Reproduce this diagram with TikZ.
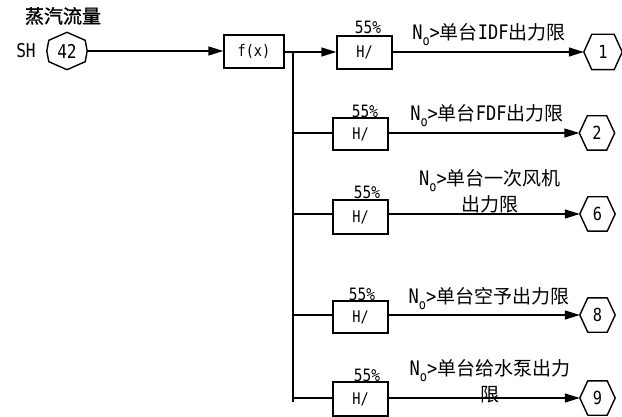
\documentclass[tikz,border=0pt]{standalone}
\usepackage{fontspec}
\setmainfont[FakeStretch=0.85]{DejaVu Sans Mono}
\newfontfamily\cjk{Noto Sans CJK SC}
\newfontfamily\cjkb[FakeBold=1.2]{Noto Sans CJK SC}
\usetikzlibrary{arrows.meta,calc}
\newcommand{\fsz}[1]{\fontsize{#1}{#1}\selectfont}
\newcommand{\zh}[1]{{\cjk\fontsize{19}{26}\selectfont #1}}
\newcommand{\No}{N\raisebox{-0.3em}{\fsz{14}o}>}
\tikzset{
  ln/.style={line width=1.4pt},
  arr/.style={ln, -{Triangle[length=15pt,width=9pt]}},
  hbox/.style={draw, line width=1.4pt, minimum width=55pt, minimum height=33pt, inner sep=0pt, font=\fsz{16}},
  hexo/.style={minimum width=35pt, minimum height=34pt, inner sep=0pt, font=\fsz{18}},
  pct/.style={inner sep=0pt, font=\fsz{17}},
  lbl/.style={inner sep=0pt, align=center, font=\fontsize{20}{26}\selectfont},
}
\begin{document}
\begin{tikzpicture}[x=1pt,y=-1pt]
\useasboundingbox (0,0) rectangle (622,417);
% title and source
\node[inner sep=0pt] (title) at (63,16) {\cjkb\fsz{19}蒸汽流量};
\node[inner sep=0pt, font=\fsz{19}] (sh) at (26,51) {SH};
\node[minimum width=40pt, minimum height=37pt, inner sep=0pt, font=\fsz{19}] (s42) at (67,51) {42};
\draw[ln] (s42.north) -- ($(s42.north east)+(-2,8)$) -- ($(s42.east)$) -- ($(s42.south east)+(-2,-8)$) -- (s42.south)
  -- ($(s42.south west)+(2,-8)$) -- (s42.west) -- ($(s42.north west)+(2,8)$) -- cycle;
\node[draw, line width=1.4pt, minimum width=60pt, minimum height=33pt, inner sep=0pt, font=\fsz{16}] (fx) at (254,51.5) {f(x)};
\draw[arr] (s42.east) -- (s42.east -| fx.west);

% boxes
\node[hbox] (b1) at (364.5,52.5) {H/};
\node[hbox, minimum height=32pt] (b2) at (360.5,134) {H/};
\node[hbox, minimum height=34pt] (b3) at (360.5,217) {H/};
\node[hbox, minimum height=32pt] (b4) at (360.5,317) {H/};
\node[hbox, minimum height=34pt] (b5) at (360.5,399) {H/};

% percent labels
\node[pct] (p1) at (368,27) {55\%};
\node[pct] (p2) at (365,111) {55\%};
\node[pct] (p3) at (367,192) {55\%};
\node[pct] (p4) at (362,294) {55\%};
\node[pct] (p5) at (367,375) {55\%};

% output hexagons
\node[hexo, minimum width=38pt, minimum height=35pt] (h1) at (603,52) {1};
\node[hexo] (h2) at (597,133) {2};
\node[hexo] (h6) at (597.5,214) {6};
\node[hexo] (h8) at (597.5,315) {8};
\node[hexo] (h9) at (597.5,398) {9};
\foreach \h in {h1,h2,h6,h8,h9}{
  \draw[ln] (\h.west) -- ($(\h.north west)+(8,0)$) -- ($(\h.north east)+(-8,0)$) -- (\h.east)
    -- ($(\h.south east)+(-8,0)$) -- ($(\h.south west)+(8,0)$) -- cycle;
}

% bus
\coordinate (bt) at (293,52);
\coordinate (bb) at (293,402);
\coordinate (r2) at (293,133);
\coordinate (r3) at (293,214);
\coordinate (r4) at (293,315);
\coordinate (r5) at (293,398);
\draw[ln] (bt) -- (bb);
\draw[arr] (fx.east |- h1) -- (b1.west |- h1);
\draw[ln] (r2) -- (r2 -| b2.west);
\draw[ln] (r3) -- (r3 -| b3.west);
\draw[ln] (r4) -- (r4 -| b4.west);
\draw[ln] (r5) -- (r5 -| b5.west);

\draw[arr] (b1.east |- h1) -- (h1.west);
\draw[arr] (b2.east |- h2) -- (h2.west);
\draw[arr] (b3.east |- h6) -- (h6.west);
\draw[arr] (b4.east |- h8) -- (h8.west);
\draw[arr] (b5.east |- h9) -- (h9.west);

% labels
\node[lbl] (l1) at (489,35) {\No\zh{单台}IDF\zh{出力限}};
\node[lbl] (l2) at (487,116) {\No\zh{单台}FDF\zh{出力限}};
\node[lbl] (l3) at (490,191) {\No\zh{单台一次风机}\\\zh{出力限}};
\node[lbl] (l4) at (489,299) {\No\zh{单台空予出力限}};
\node[lbl] (l5) at (490,381) {\No\zh{单台给水泵出力}\\\zh{限}};
\end{tikzpicture}
\end{document}
